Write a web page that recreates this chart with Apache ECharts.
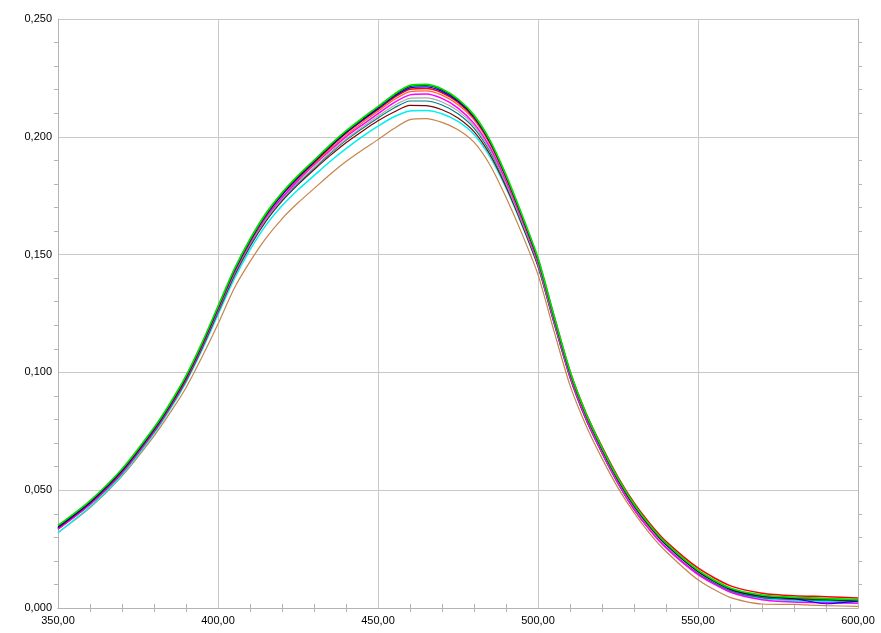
<!DOCTYPE html>
<html><head><meta charset="utf-8">
<script src="https://cdn.jsdelivr.net/npm/echarts@6/dist/echarts.min.js"></script>
<style>html,body{margin:0;padding:0;background:#fff}#c{width:881px;height:633px}</style>
</head><body><div id="c"></div>
<script>
const wavelengths = [350,360,370,380,385,390,395,400,405,410,415,420,425,430,435,440,445,450,455,460,465,470,475,480,485,490,495,500,505,510,515,520,525,530,535,540,550,560,570,580,590,600];
const xTicks = [350,400,450,500,550,600];
const yTicks = [0,0.05,0.1,0.15,0.2,0.25];

const brown  = [.0320,.0425,.0560,.0730,.0828,.0935,.1065,.1205,.1355,.1470,.1570,.1652,.1720,.1780,.1840,.1895,.1943,.1988,.2035,.2073,.2077,.2061,.2030,.1977,.1880,.1743,.1588,.1415,.1175,.0945,.0775,.0635,.0510,.0405,.0315,.0240,.0120,.0045,.0017,.0015,.0010,.0007];
const cyan   = [.0320,.0430,.0565,.0740,.0843,.0958,.1095,.1245,.1395,.1520,.1625,.1707,.1775,.1835,.1895,.1950,.2000,.2045,.2085,.2110,.2112,.2098,.2065,.2010,.1915,.1783,.1625,.1450,.1210,.0978,.0800,.0657,.0528,.0420,.0332,.0258,.0145,.0070,.0040,.0032,.0028,.0025];
const maroon = [.0335,.0440,.0573,.0747,.0850,.0965,.1103,.1255,.1407,.1535,.1642,.1727,.1797,.1860,.1920,.1975,.2023,.2068,.2105,.2133,.2132,.2115,.2080,.2022,.1925,.1788,.1628,.1450,.1210,.0978,.0800,.0658,.0530,.0420,.0332,.0258,.0148,.0075,.0045,.0038,.0033,.0030];
const teal   = [.0335,.0440,.0575,.0750,.0853,.0970,.1108,.1260,.1413,.1540,.1647,.1732,.1802,.1865,.1928,.1985,.2034,.2080,.2122,.2152,.2152,.2135,.2098,.2037,.1937,.1798,.1635,.1457,.1215,.0985,.0805,.0660,.0530,.0420,.0332,.0260,.0150,.0075,.0045,.0037,.0032,.0030];
const gray   = [.0340,.0445,.0580,.0755,.0858,.0975,.1113,.1265,.1418,.1545,.1652,.1737,.1808,.1870,.1933,.1990,.2040,.2088,.2132,.2163,.2165,.2148,.2110,.2047,.1945,.1803,.1638,.1460,.1220,.0988,.0810,.0665,.0535,.0425,.0337,.0263,.0152,.0080,.0052,.0043,.0040,.0035];
const magenta= [.0335,.0440,.0575,.0750,.0853,.0970,.1110,.1265,.1420,.1550,.1658,.1742,.1815,.1880,.1942,.2000,.2050,.2098,.2145,.2178,.2182,.2163,.2122,.2057,.1955,.1813,.1648,.1465,.1220,.0985,.0805,.0660,.0530,.0420,.0330,.0255,.0142,.0068,.0035,.0025,.0022,.0020];
const orange = [.0340,.0445,.0580,.0755,.0858,.0975,.1115,.1270,.1425,.1555,.1665,.1752,.1822,.1885,.1948,.2007,.2059,.2108,.2157,.2192,.2195,.2177,.2136,.2072,.1967,.1823,.1655,.1473,.1230,.0995,.0815,.0670,.0540,.0430,.0340,.0268,.0155,.0080,.0050,.0040,.0036,.0032];
const red    = [.0340,.0445,.0580,.0755,.0858,.0975,.1115,.1272,.1427,.1557,.1667,.1754,.1826,.1890,.1955,.2015,.2067,.2116,.2166,.2202,.2205,.2187,.2146,.2080,.1975,.1830,.1660,.1480,.1240,.1005,.0828,.0685,.0556,.0447,.0358,.0283,.0170,.0095,.0063,.0052,.0048,.0042];
const blue   = [.0342,.0447,.0582,.0757,.0860,.0977,.1117,.1272,.1427,.1557,.1667,.1754,.1827,.1892,.1957,.2017,.2070,.2119,.2171,.2208,.2212,.2193,.2151,.2084,.1977,.1830,.1660,.1477,.1233,.0998,.0818,.0673,.0543,.0433,.0344,.0269,.0155,.0080,.0050,.0040,.0018,.0030];
const black  = [.0346,.0451,.0586,.0761,.0864,.0981,.1121,.1276,.1431,.1561,.1671,.1758,.1831,.1896,.1961,.2021,.2074,.2124,.2176,.2214,.2218,.2199,.2156,.2088,.1981,.1834,.1664,.1481,.1236,.1001,.0821,.0676,.0546,.0436,.0346,.0271,.0156,.0081,.0051,.0041,.0036,.0031];
const green  = [.0350,.0455,.0590,.0765,.0868,.0985,.1125,.1280,.1435,.1565,.1675,.1762,.1835,.1900,.1965,.2025,.2078,.2128,.2180,.2218,.2222,.2203,.2160,.2092,.1985,.1838,.1668,.1485,.1240,.1005,.0825,.0680,.0550,.0440,.0350,.0275,.0160,.0085,.0055,.0045,.0040,.0035];

const seriesDefs = [
  ['brown', brown, '#c8844a', 1.2],
  ['cyan', cyan, '#00f0f0', 1.5],
  ['maroon', maroon, '#800000', 1.2],
  ['teal', teal, '#008080', 1.2],
  ['gray', gray, '#a8a8a8', 1.2],
  ['magenta', magenta, '#ff00ff', 1.5],
  ['orange', orange, '#ff6030', 1.2],
  ['red', red, '#ff0000', 1.5],
  ['blue', blue, '#0000ff', 1.2],
  ['black', black, '#000000', 1.2],
  ['green', green, '#00e000', 1.8]
];

const fmtX = v => v.toFixed(2).replace('.', ',');
const fmtY = v => v.toFixed(3).replace('.', ',');

const axisCommon = {
  type: 'value',
  axisLine: {show: true, lineStyle: {color: '#b4b4b4'}},
  axisTick: {show: false},
  minorTick: {show: true, splitNumber: 5, length: 4, lineStyle: {color: '#b4b4b4'}},
  splitLine: {show: false}
};

const chart = echarts.init(document.getElementById('c'), null, {renderer: 'canvas'});
chart.setOption({
  animation: false,
  backgroundColor: '#ffffff',
  grid: {left: 58, right: 23, top: 19, bottom: 25},
  xAxis: [
    Object.assign({}, axisCommon, {
      min: xTicks[0], max: xTicks[xTicks.length-1], interval: 50, position: 'bottom',
      axisLabel: {formatter: fmtX, color: '#000', fontFamily: 'Liberation Sans, Arial', fontSize: 11, margin: 7},
      splitLine: {show: true, lineStyle: {color: '#c8c8c8'}}
    }),
    Object.assign({}, axisCommon, {
      min: xTicks[0], max: xTicks[xTicks.length-1], interval: 50, position: 'top',
      axisLabel: {show: false}
    })
  ],
  yAxis: [
    Object.assign({}, axisCommon, {
      min: yTicks[0], max: yTicks[yTicks.length-1], interval: 0.05, position: 'left',
      axisLabel: {formatter: fmtY, color: '#000', fontFamily: 'Liberation Sans, Arial', fontSize: 11, margin: 6},
      splitLine: {show: true, lineStyle: {color: '#c8c8c8'}}
    }),
    Object.assign({}, axisCommon, {
      min: yTicks[0], max: yTicks[yTicks.length-1], interval: 0.05, position: 'right',
      axisLabel: {show: false}
    })
  ],
  series: seriesDefs.map(([name, vals, color, w]) => ({
    name, type: 'line', xAxisIndex: 0, yAxisIndex: 0,
    data: wavelengths.map((x, i) => [x, vals[i]]),
    showSymbol: false, smooth: 0.25,
    lineStyle: {color, width: w},
    z: 2
  }))
});
</script></body></html>
